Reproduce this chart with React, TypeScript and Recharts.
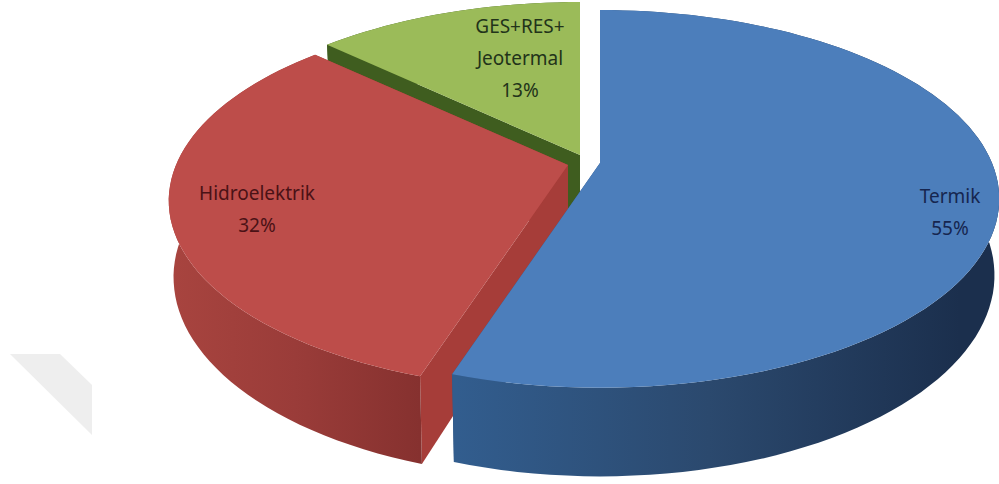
import React from "react";
import { Pie, PieChart } from "recharts";

// Installed capacity shares, painted back to front and laid out counter-clockwise from 12 o'clock.
const categories = ["GES+RES+Jeotermal", "Hidroelektrik", "Termik"];
const shares = [13, 32, 55];
const labelLines = [["GES+RES+", "Jeotermal"], ["Hidroelektrik"], ["Termik"]];

const rows = categories.map((name, i) => ({ name, value: shares[i], lines: labelLines[i] }));

const WIDTH = 999;
const HEIGHT = 484;
const PIE_CX = 600;
const PIE_CY = 163;
const RADIUS = 392;

// Perspective of the tilted disc.
const DEPTH_RATIO = 182 / 392;
const PERSPECTIVE = 0.19;
const WALL = 74;
const BOTTOM_SCALE = 0.988;

type Look = {
  top: string;
  text: string;
  side: string;
  wall: [string, string, string];
  wallSpan: [number, number];
  shift: [number, number];
  label: [number, number];
};

const looks: Record<string, Look> = {
  "GES+RES+Jeotermal": {
    top: "#9BBB59",
    text: "#22331a",
    side: "#3F5D1F",
    wall: ["#3F5D1F", "#3F5D1F", "#3F5D1F"],
    wallSpan: [320, 580],
    shift: [-20, -8],
    label: [520, 33],
  },
  Hidroelektrik: {
    top: "#BD4D4A",
    text: "#4a1216",
    side: "#A63D39",
    wall: ["#A8443F", "#9A3C39", "#86312F"],
    wallSpan: [170, 420],
    shift: [-32, 2],
    label: [257, 200],
  },
  Termik: {
    top: "#4C7EBB",
    text: "#16264f",
    side: "#2F5480",
    wall: ["#325D8E", "#2B496E", "#1B2F4D"],
    wallSpan: [457, 960],
    shift: [0, 0],
    label: [950, 203],
  },
};

const DEG = Math.PI / 180;

function project(cx: number, cy: number, r: number, angle: number, bottom: boolean): [number, number] {
  const u = Math.cos(angle * DEG);
  const v = -Math.sin(angle * DEG);
  const w = 1 - PERSPECTIVE * v;
  const x = (r * u) / w;
  const y = (r * DEPTH_RATIO * v) / w;
  if (!bottom) return [cx + x, cy + y];
  return [cx + x * BOTTOM_SCALE, cy + y * BOTTOM_SCALE + WALL / w];
}

function arc(cx: number, cy: number, r: number, from: number, to: number, bottom: boolean) {
  const pts: [number, number][] = [];
  const steps = Math.max(8, Math.ceil(Math.abs(to - from) / 2));
  for (let i = 0; i <= steps; i++) {
    pts.push(project(cx, cy, r, from + ((to - from) * i) / steps, bottom));
  }
  return pts;
}

const toPath = (pts: [number, number][]) =>
  "M" + pts.map((p) => `${p[0].toFixed(1)},${p[1].toFixed(1)}`).join("L") + "Z";

function DiscSector(props: any) {
  const { cx, cy, outerRadius, startAngle, endAngle, name } = props;
  const look = looks[name];
  const ox = cx + look.shift[0];
  const oy = cy + look.shift[1];
  const gid = "wall-" + name.replace(/\W/g, "");
  const topArc = arc(ox, oy, outerRadius, startAngle, endAngle, false);
  const lowArc = arc(ox, oy, outerRadius, startAngle, endAngle, true);
  const apexTop: [number, number] = [ox, oy];
  const apexLow: [number, number] = [ox, oy + WALL];
  const firstTop = topArc[0];
  const firstLow = lowArc[0];
  const lastTop = topArc[topArc.length - 1];
  const lastLow = lowArc[lowArc.length - 1];
  return (
    <g>
      <defs>
        <linearGradient id={gid} gradientUnits="userSpaceOnUse" x1={look.wallSpan[0]} y1="0" x2={look.wallSpan[1]} y2="0">
          <stop offset="0" stopColor={look.wall[0]} />
          <stop offset="0.5" stopColor={look.wall[1]} />
          <stop offset="1" stopColor={look.wall[2]} />
        </linearGradient>
      </defs>
      <path d={toPath([apexTop, firstTop, firstLow, apexLow])} fill={look.side} />
      <path d={toPath([apexTop, lastTop, lastLow, apexLow])} fill={look.side} />
      <path d={toPath([...topArc, ...lowArc.slice().reverse()])} fill={`url(#${gid})`} />
      <path d={toPath([apexTop, ...topArc])} fill={look.top} />
    </g>
  );
}

function SliceLabel(props: any) {
  const { name, value, lines } = props.payload ?? props;
  const look = looks[name];
  const all = [...lines, `${value}%`];
  return (
    <text
      x={look.label[0]}
      y={look.label[1]}
      textAnchor="middle"
      fontFamily="'Noto Sans', sans-serif"
      fontSize={19}
      fill={look.text}
    >
      {all.map((line: string, i: number) => (
        <tspan key={line} x={look.label[0]} dy={i === 0 ? 0 : 32}>
          {line}
        </tspan>
      ))}
    </text>
  );
}

export default function App() {
  return (
    <div style={{ position: "absolute", left: 0, top: 0, width: WIDTH, height: HEIGHT, background: "#fff" }}>
      <PieChart width={WIDTH} height={HEIGHT} margin={{ top: 0, right: 0, bottom: 0, left: 0 }}>
        <polygon points="10,354 60,354 92,385 92,435" fill="#EEEEEE" />
        <Pie
          data={rows}
          dataKey="value"
          nameKey="name"
          cx={PIE_CX}
          cy={PIE_CY}
          innerRadius={0}
          outerRadius={RADIUS}
          startAngle={90}
          endAngle={450}
          paddingAngle={0}
          stroke="none"
          isAnimationActive={false}
          labelLine={false}
          label={SliceLabel}
          shape={DiscSector}
        />
      </PieChart>
    </div>
  );
}
